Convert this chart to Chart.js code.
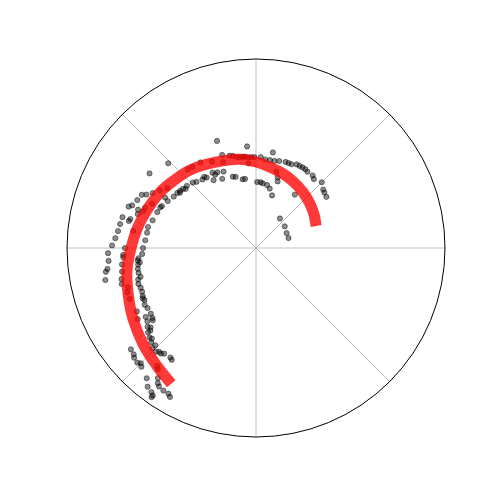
<!DOCTYPE html>
<html>
<head>
<meta charset="utf-8">
<title>Polar scatter with spiral fit</title>
<script src="https://cdn.jsdelivr.net/npm/chart.js@4.4.1/dist/chart.umd.min.js"></script>
<style>
  html, body { margin: 0; padding: 0; background: #ffffff; }
  #wrap { width: 500px; height: 500px; }
</style>
</head>
<body>
<div id="wrap"><canvas id="polar-chart" width="500" height="500"></canvas></div>
<script>
// radial limit of the plot
var R_MAX = 18.9;

// observed samples: angle (degrees) and radius
var sampleTheta = [
    110, 95, 80, 136, 145, 110, 106, 104, 100, 98, 95, 91, 87, 84, 81, 78, 75, 71, 67, 64,
    60, 58, 56, 52, 50, 45, 41, 39, 36, 134, 132, 128, 125, 120, 117, 122, 116, 108, 106, 101,
    99, 89, 86, 84, 80, 77, 73, 72, 73, 54, 51, 37, 26, 17, 131, 128, 123, 117, 111, 95,
    75, 138, 141, 144, 145, 148, 152, 156, 151, 157, 160, 165, 169, 172, 176, 180, 183, 185, 188, 192,
    195, 199, 201, 204, 207, 209, 212, 214, 216, 218, 218, 220, 222, 224, 226, 227, 229, 232, 233, 219,
    221, 222, 225, 226, 224, 230, 232, 234, 235, 233, 234, 235, 237, 239, 240, 231, 230, 235, 197, 199,
    202, 208, 211, 184, 187, 190, 193, 195, 180, 183, 185, 188, 189, 192, 182, 179, 176, 173, 170, 167,
    162, 161, 158, 155, 154, 152, 149, 146, 167, 164, 162, 160, 157, 162, 172, 168, 187, 194, 205, 212,
    214, 224, 93, 97, 102, 69, 62, 113, 119, 126, 140, 143, 186, 190, 197, 203, 215, 217, 221, 228
];
var sampleR = [
    11.4, 10.2, 9.7, 12.2, 13.0, 9.9, 9.6, 9.5, 9.2, 9.2, 9.1, 9.1, 9.1, 8.9, 8.9, 8.9, 9.0, 9.1, 9.1, 9.3,
    9.3, 9.3, 9.2, 9.2, 9.0, 9.3, 8.9, 8.8, 8.7, 9.1, 8.9, 8.7, 8.6, 8.7, 8.5, 8.0, 7.7, 7.5, 7.4, 7.0,
    7.0, 6.6, 6.6, 6.5, 6.4, 6.1, 5.5, 7.0, 7.4, 6.6, 3.8, 3.6, 3.4, 3.4, 10.4, 10.3, 10.2, 9.7, 9.2, 8.5,
    7.9, 9.3, 9.4, 9.4, 9.6, 9.7, 10.0, 10.3, 10.4, 10.4, 10.5, 10.7, 11.0, 11.0, 11.1, 11.3, 11.4, 11.8, 11.9, 12.0,
    12.2, 12.2, 12.2, 12.4, 12.5, 12.4, 12.4, 12.5, 13.4, 13.4, 13.7, 13.9, 14.1, 14.4, 14.4, 14.2, 14.0, 13.9, 14.0, 16.1,
    16.2, 16.4, 16.3, 16.5, 16.5, 17.0, 17.6, 17.8, 18.0, 16.3, 16.7, 16.9, 17.0, 17.0, 17.2, 15.6, 15.4, 18.2, 13.4, 13.6,
    13.6, 13.5, 13.8, 13.3, 13.5, 13.6, 13.8, 13.9, 13.1, 13.3, 14.8, 15.0, 15.2, 15.4, 14.8, 14.4, 14.1, 13.9, 13.8, 13.7,
    13.4, 13.1, 12.8, 12.6, 12.2, 11.7, 11.2, 10.7, 12.9, 12.3, 12.4, 11.8, 11.3, 11.9, 12.4, 13.0, 11.7, 11.9, 12.3, 13.0,
    13.1, 14.0, 9.1, 9.2, 9.3, 9.1, 9.3, 8.3, 8.4, 8.8, 9.2, 9.5, 11.9, 12.0, 12.3, 12.3, 12.6, 13.2, 13.8, 14.2
];

// fitted spiral read along the red band
var fitTheta = [20, 30, 40, 50, 60, 70, 80, 90, 100, 110, 120, 130, 140, 150, 160, 170, 180, 190, 200, 210, 220, 230, 238];
var fitR = [6.4, 6.7, 7.0, 7.3, 7.6, 7.9, 8.2, 8.6, 9.0, 9.3, 9.7, 10.2, 10.6, 11.1, 11.5, 12.0, 12.5, 13.1, 13.6, 14.2, 14.8, 15.4, 16.0];

// spoke angles for the angular grid
var spokeAngles = [0, 45, 90, 135, 180, 225, 270, 315];

function toXY(thetaList, rList) {
    return thetaList.map(function (t, i) {
        var a = t * Math.PI / 180;
        return { x: rList[i] * Math.cos(a), y: rList[i] * Math.sin(a) };
    });
}

// Polar frame: spokes under the data, black rim on top
var polarFrame = {
    id: 'polarFrame',
    beforeDatasetsDraw: function (chart) {
        var ctx = chart.ctx, xs = chart.scales.x, ys = chart.scales.y;
        var cx = xs.getPixelForValue(0), cy = ys.getPixelForValue(0);
        var rad = xs.getPixelForValue(R_MAX) - cx;
        ctx.save();
        ctx.strokeStyle = '#b0b0b0';
        ctx.lineWidth = 0.8;
        spokeAngles.forEach(function (deg) {
            var a = deg * Math.PI / 180;
            ctx.beginPath();
            ctx.moveTo(cx, cy);
            ctx.lineTo(cx + rad * Math.cos(a), cy - rad * Math.sin(a));
            ctx.stroke();
        });
        ctx.restore();
    },
    afterDatasetsDraw: function (chart) {
        var ctx = chart.ctx, xs = chart.scales.x, ys = chart.scales.y;
        var cx = xs.getPixelForValue(0), cy = ys.getPixelForValue(0);
        var rad = xs.getPixelForValue(R_MAX) - cx;
        ctx.save();
        ctx.strokeStyle = '#000000';
        ctx.lineWidth = 1;
        ctx.beginPath();
        ctx.arc(cx, cy, rad, 0, Math.PI * 2);
        ctx.stroke();
        ctx.restore();
    }
};

new Chart(document.getElementById('polar-chart'), {
    type: 'scatter',
    data: {
        datasets: [
            {
                label: 'fit',
                data: toXY(fitTheta, fitR),
                showLine: true,
                borderColor: 'rgba(255, 0, 0, 0.78)',
                borderWidth: 11,
                borderCapStyle: 'butt',
                borderJoinStyle: 'round',
                tension: 0.4,
                pointRadius: 0,
                order: 0
            },
            {
                label: 'samples',
                data: toXY(sampleTheta, sampleR),
                backgroundColor: 'rgba(0, 0, 0, 0.45)',
                borderColor: 'rgba(0, 0, 0, 0.45)',
                borderWidth: 1,
                pointRadius: 2.6,
                order: 1
            }
        ]
    },
    options: {
        responsive: false,
        animation: false,
        layout: { padding: { left: 67, right: 55, top: 59, bottom: 63 } },
        plugins: { legend: { display: false }, tooltip: { enabled: false } },
        scales: {
            x: { type: 'linear', min: -R_MAX, max: R_MAX, display: false },
            y: { type: 'linear', min: -R_MAX, max: R_MAX, display: false }
        }
    },
    plugins: [polarFrame]
});
</script>
</body>
</html>
